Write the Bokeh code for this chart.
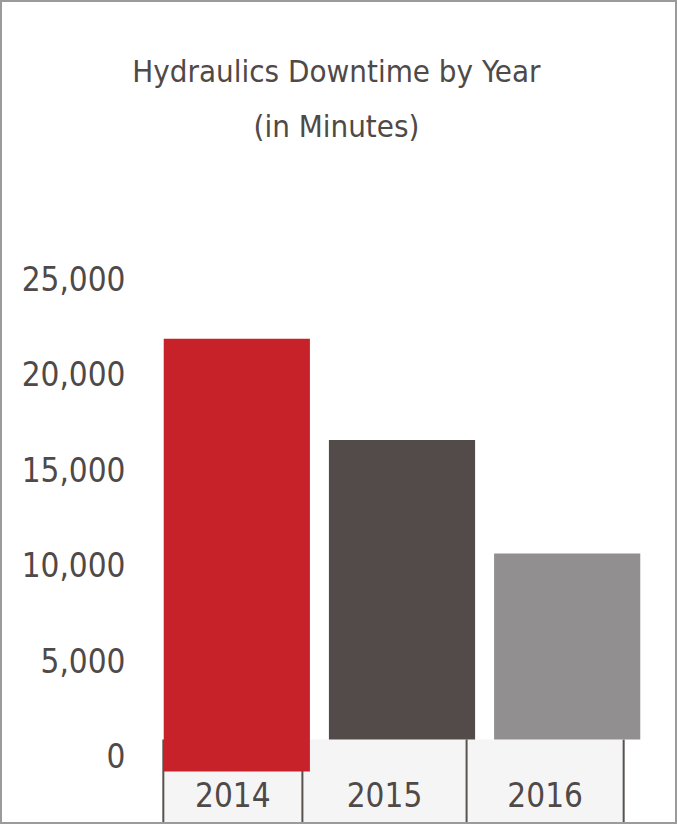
from bokeh.plotting import figure
from bokeh.models import (FixedTicker, NumeralTickFormatter, Range1d, FactorRange,
                          LinearAxis, ColumnDataSource)
from bokeh.core.properties import value
from bokeh.embed import file_html
from bokeh.resources import INLINE

# data
years = ["2014", "2015", "2016"]
downtime = [21000, 15700, 9750]
bar_colors = ["#c7212a", "#534b49", "#918f90"]
y_ticks = [0, 5000, 10000, 15000, 20000, 25000]
title_lines = ["Hydraulics Downtime by Year", "(in Minutes)"]

FONT = "DejaVu Sans Condensed"
TEXT = "#4f4948"
Y_BOTTOM, Y_TOP = -4560, 38627
HIGHLIGHT_DROP = -1680   # the 2014 bar hangs down into the year band
LABEL_SHIFT = 840        # tick labels hang just below their value

x_range = FactorRange(factors=years, range_padding=0.18,
                      range_padding_units="absolute")
p = figure(x_range=x_range, y_range=Range1d(Y_BOTTOM, Y_TOP),
           width=677, height=824, output_backend="svg", toolbar_location=None,
           min_border_left=122, min_border_right=0, min_border_top=0,
           min_border_bottom=0)
p.styles = {"border": "2px solid #9b9b9b", "box-sizing": "border-box"}
p.outline_line_color = None
p.xgrid.visible = False
p.ygrid.visible = False
p.xaxis.visible = False
p.yaxis.visible = False

# two-line title, centred over the whole card rather than the bars
p.text(x=[1.103, 1.103], y=[35063, 32180], text=title_lines,
       text_align="center", text_baseline="middle", text_font=value(FONT),
       text_font_size="31px", text_color=TEXT)

# value axis, labels sit just under their tick value
p.extra_y_ranges = {"labels": Range1d(Y_BOTTOM + LABEL_SHIFT, Y_TOP + LABEL_SHIFT)}
ax = LinearAxis(y_range_name="labels")
ax.ticker = FixedTicker(ticks=y_ticks)
ax.formatter = NumeralTickFormatter(format="0,0")
ax.axis_line_color = None
ax.major_tick_line_color = None
ax.minor_tick_line_color = None
ax.major_label_standoff = -7
ax.major_label_text_font = FONT
ax.major_label_text_font_size = "33px"
ax.major_label_text_color = TEXT
p.add_layout(ax, "left")

# light band holding the year labels, with dividers
dividers = [0.055, 0.897, 1.891, 2.842]
p.quad(left=[dividers[0]], right=[dividers[-1]], bottom=[Y_BOTTOM], top=[0],
       fill_color="#f5f5f5", line_color=None)
p.segment(x0=dividers, y0=[0] * 4, x1=dividers, y1=[Y_BOTTOM] * 4,
          line_color="#58524f", line_width=2)

src = ColumnDataSource(dict(
    x=years, top=downtime, color=bar_colors,
    bottom=[HIGHLIGHT_DROP if y == "2014" else 0 for y in years]))
p.vbar(x="x", top="top", bottom="bottom", width=0.885, fill_color="color",
       line_color=None, source=src)

cell_centers = [(dividers[i] + dividers[i + 1]) / 2 for i in range(3)]
p.text(x=cell_centers, y=[-2883] * 3, text=years, text_align="center",
       text_baseline="middle", text_font=value(FONT), text_font_size="33px",
       text_color=TEXT)

open("out.html", "w").write(file_html(p, INLINE))
